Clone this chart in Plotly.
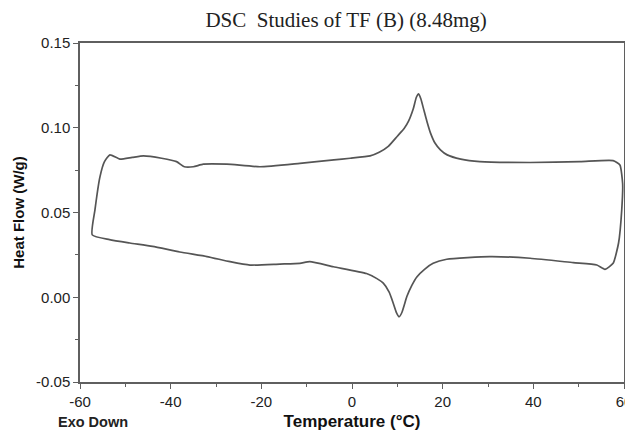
import plotly.graph_objects as go

# DSC loop: heating branch (top) then cooling branch (bottom)
temp = [-57.3, -56.7, -55.6, -54.6, -53.4, -51.2, -48.5, -46.0, -42.0, -38.7, -37.0,
        -35.0, -32.8, -27.6, -20.3, -11.5, -4.0, -0.4, 4.0, 6.0, 8.0, 10.0, 11.5,
        12.5, 13.5, 14.2, 14.7, 15.2, 15.8, 16.5, 17.3, 18.3, 19.5, 21.0, 24.0,
        28.2, 39.3, 50.3, 57.6, 59.1, 59.7, 59.5, 58.8, 57.6, 55.8, 54.0, 48.8,
        39.3, 30.4, 20.9, 17.9, 16.0, 14.3, 13.2, 12.1, 11.6, 11.0, 10.4, 9.8,
        9.1, 8.2, 6.9, 5.5, 3.2, -4.1, -9.3, -11.5, -15.9, -22.5, -26.9, -32.0,
        -38.0, -44.0, -49.0, -53.5, -57.3]
heat_flow = [0.0368, 0.0515, 0.071, 0.080, 0.084, 0.0815, 0.0825, 0.0834, 0.082, 0.080, 0.077,
             0.077, 0.0785, 0.0785, 0.077, 0.079, 0.081, 0.082, 0.0834, 0.0855, 0.089, 0.095, 0.0995,
             0.104, 0.111, 0.118, 0.120, 0.117, 0.111, 0.104, 0.097, 0.091, 0.087, 0.084, 0.0815,
             0.080, 0.0795, 0.080, 0.0806, 0.078, 0.067, 0.0515, 0.032, 0.020, 0.0165, 0.019, 0.0204,
             0.023, 0.024, 0.0224, 0.020, 0.0165, 0.012, 0.007, 0.0004, -0.004, -0.009, -0.0115, -0.009,
             -0.0035, 0.003, 0.0083, 0.011, 0.014, 0.018, 0.021, 0.020, 0.0196, 0.019, 0.021, 0.024,
             0.0267, 0.030, 0.032, 0.034, 0.0368]

x_ticks = [-60, -40, -20, 0, 20, 40, 60]
y_ticks = [-0.05, 0.00, 0.05, 0.10, 0.15]

fig = go.Figure()
fig.add_trace(go.Scatter(x=temp, y=heat_flow, mode='lines',
                         line=dict(color='#555555', width=1.7, shape='spline', smoothing=0.5),
                         showlegend=False))

axis_style = dict(showline=True, linecolor='#5f5f5f', linewidth=1.5, mirror=True,
                  ticks='outside', ticklen=5, tickcolor='#5f5f5f', showgrid=False,
                  zeroline=False, automargin=False,
                  tickfont=dict(family='Liberation Sans', size=15, color='#222222'))

fig.update_xaxes(range=[-60, 60], tickvals=x_ticks, ticktext=[str(t) for t in x_ticks],
                 minor=dict(dtick=10, ticks='outside', ticklen=3, tickcolor='#5f5f5f'),
                 title=dict(text='<b>Temperature (°C)</b>', standoff=6,
                            font=dict(family='Liberation Sans', size=17, color='#111111')),
                 **axis_style)
fig.update_yaxes(range=[-0.05, 0.15], tickvals=y_ticks, ticktext=['%.2f' % t for t in y_ticks],
                 minor=dict(dtick=0.025, ticks='outside', ticklen=3, tickcolor='#5f5f5f'),
                 title=dict(text='<b>Heat Flow (W/g)</b>', standoff=8,
                            font=dict(family='Liberation Sans', size=15, color='#111111')),
                 **axis_style)

fig.add_annotation(text='<b>Exo Down</b>', xref='paper', yref='paper', x=-0.044, y=-0.118,
                   xanchor='left', yanchor='middle', showarrow=False,
                   font=dict(family='Liberation Sans', size=14.5, color='#222222'))

# page body has an 8px margin, so the figure is drawn 8px smaller
fig.update_layout(
    width=625, height=428,
    margin=dict(l=72, r=9, t=35, b=54),
    paper_bgcolor='white', plot_bgcolor='white',
    title=dict(text='DSC  Studies of TF (B) (8.48mg)', x=0.541, xanchor='center',
               yref='container', y=0.973, yanchor='middle',
               font=dict(family='Liberation Serif', size=21, color='#222222')),
)

fig.write_html("out.html")
